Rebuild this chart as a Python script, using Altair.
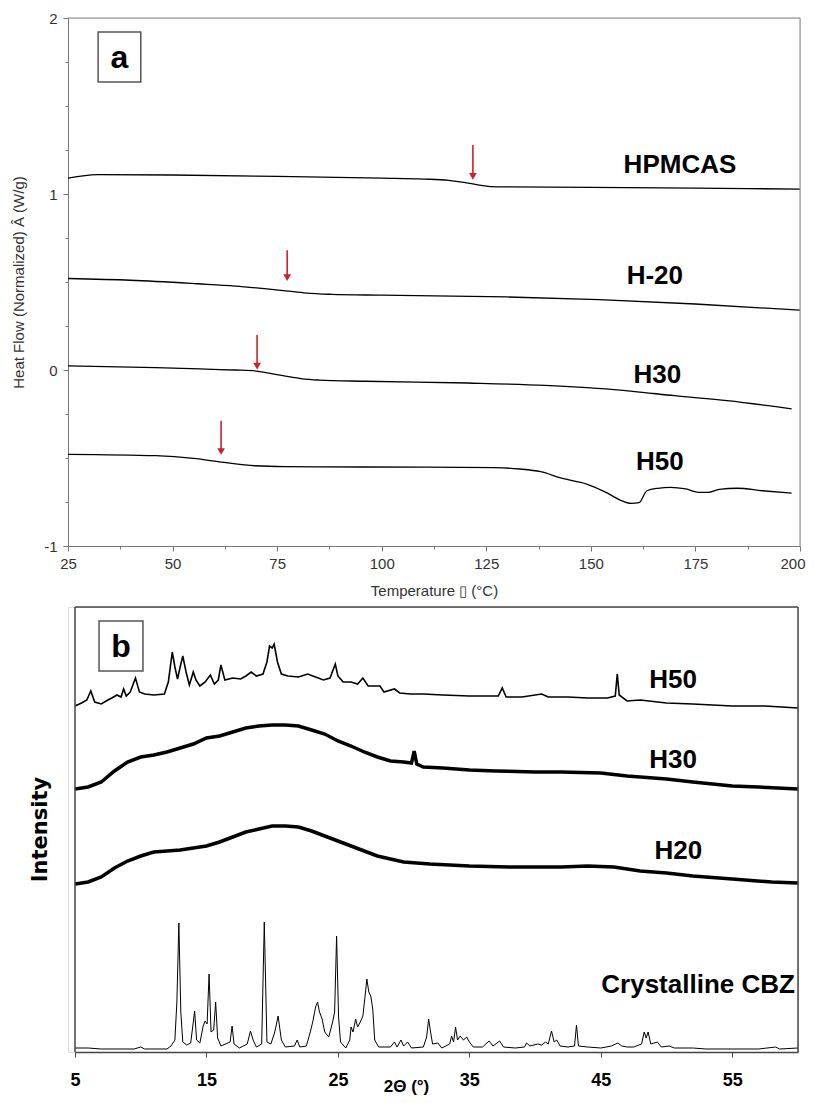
import altair as alt
import pandas as pd

# ---------------- Panel a : DSC ----------------
hpmcas_t = [25, 32, 50, 75, 100, 110, 116, 120, 123, 126, 130, 150, 175, 200]
hpmcas_v = [1.09, 1.11, 1.108, 1.10, 1.09, 1.085, 1.078, 1.065, 1.052, 1.042, 1.04, 1.038, 1.033, 1.028]

h20_t = [25, 40, 56, 65, 72, 77, 82, 88, 100, 130, 152, 175, 200]
h20_v = [0.52, 0.51, 0.49, 0.477, 0.462, 0.45, 0.437, 0.43, 0.425, 0.415, 0.40, 0.375, 0.34]

h30_t = [25, 46, 56.6, 65, 70, 73, 76.4, 81, 85, 96, 120.6, 139, 151.6, 160, 170, 182.6, 198]
h30_v = [0.023, 0.014, 0.006, 0.0, -0.006, -0.018, -0.032, -0.05, -0.057, -0.064, -0.074, -0.087,
         -0.104, -0.121, -0.146, -0.174, -0.221]

h50_t = [25, 46, 55, 62.2, 69.7, 77, 96, 127, 133, 138, 143, 149, 154, 157, 159.7, 161.5,
         163.4, 166, 169, 172.7, 175.8, 178, 180.7, 185, 191, 198]
h50_v = [-0.479, -0.487, -0.502, -0.525, -0.544, -0.549, -0.551, -0.555, -0.5625, -0.578, -0.615,
         -0.648, -0.70, -0.739, -0.758, -0.754, -0.686, -0.672, -0.667, -0.676, -0.695, -0.695,
         -0.678, -0.672, -0.686, -0.70]

dsc_names = ["HPMCAS", "H-20", "H30", "H50"]
dsc_label_t = [171.3, 165.3, 165.9, 166.5]
dsc_label_v = [1.165, 0.534, -0.03, -0.52]

arrow_t = [121.8, 77.4, 70.2, 61.6]
arrow_top = [1.278, 0.68, 0.199, -0.288]
arrow_tip = [1.08, 0.505, 0.002, -0.483]

a_x_domain = [25, 200]
a_y_domain = [-1, 2]
a_x_ticks = [25 + 6.25 * i for i in range(29)]
a_y_ticks = [-1 + 0.25 * i for i in range(13)]

box_a_t = [32.2, 42.4]
box_a_v = [1.636, 1.92]

# ---------------- Panel b : XRD ----------------
h50_x = [5.0, 5.5, 5.9, 6.2, 6.5, 7.0, 7.5, 7.8, 8.2, 8.5, 8.7, 8.9, 9.2, 9.6, 9.9, 10.3, 11.0, 11.8,
         12.1, 12.4, 12.6, 12.8, 13.0, 13.2, 13.45, 13.7, 14.0, 14.2, 14.5, 14.9, 15.3, 15.6, 15.9,
         16.1, 16.4, 17.0, 17.6, 18.0, 18.4, 18.8, 19.3, 19.6, 19.8, 20.0, 20.15, 20.4, 20.7, 21.2,
         22.0, 22.7, 23.3, 23.9, 24.4, 24.8, 25.0, 25.4, 26.0, 26.5, 26.9, 27.3, 28.2, 28.5, 29.3,
         29.7, 30.5, 31.5, 33.0, 35.0, 37.2, 37.5, 37.8, 39.0, 40.5, 41.0, 42.5, 44.0, 45.5, 46.1,
         46.25, 46.4, 47.0, 48.0, 50.0, 52.0, 55.0, 57.5, 60.0]
h50_y = [346, 349, 352, 361, 350, 348, 352, 354, 357, 355, 363, 356, 360, 374, 360, 358, 357, 358,
         370, 400, 385, 373, 385, 396, 380, 367, 380, 372, 366, 370, 377, 368, 372,
         387, 372, 374, 373, 376, 380, 376, 378, 390, 406, 404, 408, 390, 378, 376,
         375, 378, 375, 372, 374, 388, 376, 370, 370, 368, 374, 366, 366, 360, 363,
         359, 358, 358, 357, 356, 356, 364, 355, 355, 358, 355, 355, 354, 354, 356,
         378, 357, 351, 352, 349, 348, 346, 346, 344]

h30_x = [5, 6, 7, 8, 9, 10, 11, 12, 13, 14, 15, 16, 17, 18, 19, 20, 21, 22, 23, 24, 25, 26, 27,
         28, 29, 30, 30.6, 30.8, 31.0, 31.5, 33, 35, 37, 40, 42, 45, 47, 50, 52, 55, 57, 60]
h30_y = [263, 265, 270, 281, 290, 295, 297, 300, 304, 308, 314, 316, 320, 324, 326, 327, 327,
         326, 322, 318, 311, 306, 300, 295, 291, 290, 289, 301, 288, 285, 284, 282, 281, 280,
         280, 279, 276, 273, 270, 266, 265, 263]

h20_x = [5, 6, 7, 8, 9, 10, 11, 12, 13, 14, 15, 16, 17, 18, 19, 20, 21, 22, 23, 24, 25, 26, 27,
         28, 29, 30, 32, 35, 38, 40, 42, 44, 46, 48, 50, 52, 55, 58, 60]
h20_y = [168, 170, 175, 184, 191, 196, 200, 201, 202, 204, 206, 210, 215, 220, 223, 226, 226,
         225, 221, 216, 211, 206, 201, 196, 193, 190, 188, 186, 185, 185, 185, 186, 185, 181,
         179, 176, 173, 170, 169]

cbz_x = [5.0, 6.0, 7.0, 9.5, 10.0, 10.3, 12.0, 12.3, 12.6, 12.75, 12.9, 13.05, 13.2, 13.5, 13.8,
         14.0, 14.1, 14.25, 14.5, 14.75, 14.9, 15.05, 15.2, 15.35, 15.55, 15.7, 15.85, 16.1, 16.8,
         16.95, 17.1, 17.5, 18.1, 18.35, 18.55, 18.8, 19.2, 19.4, 19.6, 19.9, 20.2, 20.45, 20.7,
         21.0, 21.7, 21.9, 22.1, 22.6, 22.9, 23.1, 23.3, 23.45, 23.6, 23.8, 24.0, 24.3, 24.6,
         24.75, 24.9, 25.05, 25.2, 25.6, 25.9, 26.0, 26.15, 26.35, 26.5, 26.7, 26.9, 27.1, 27.2,
         27.35, 27.5, 27.65, 27.8, 28.1, 29.0, 29.3, 29.5, 29.8, 30.0, 30.3, 30.6, 31.5, 31.75,
         31.9, 32.05, 32.2, 32.6, 32.9, 33.5, 33.65, 33.8, 33.95, 34.1, 34.3, 34.55, 34.8, 35.0,
         35.3, 36.0, 36.5, 36.8, 37.3, 37.6, 38.5, 39.2, 39.35, 39.6, 40.2, 40.5, 40.8, 41.0,
         41.25, 41.45, 41.65, 41.9, 42.5, 43.0, 43.15, 43.3, 44.0, 45.0, 45.8, 46.3, 46.6, 47.0,
         47.5, 48.1, 48.3, 48.45, 48.6, 48.8, 49.3, 49.6, 50.2, 50.6, 52.0, 53.0, 55.0, 57.0,
         58.3, 58.6, 60.0]
cbz_y = [4, 4, 3, 3, 5, 3, 3, 6, 12, 50, 129, 40, 10, 7, 9,
         30, 41, 12, 9, 26, 31, 28, 78, 20, 22, 50, 14, 6, 10,
         26, 8, 4, 8, 21, 12, 5, 8, 130, 10, 8, 20, 36, 12,
         5, 6, 12, 5, 6, 20, 31, 45, 50, 40, 33, 20, 15, 30,
         40, 116, 35, 10, 4, 12, 25, 20, 33, 25, 30, 36, 60, 73,
         60, 56, 43, 12, 5, 5, 10, 5, 12, 6, 10, 4, 5, 15,
         33, 20, 8, 9, 4, 8, 16, 10, 25, 12, 16, 12, 15, 10,
         5, 5, 11, 6, 11, 5, 4, 5, 9, 6, 8, 7, 10, 8,
         21, 10, 12, 6, 5, 6, 27, 6, 5, 4, 6, 9, 6, 5,
         5, 8, 20, 14, 20, 8, 10, 5, 6, 4, 4, 3, 3, 3,
         5, 3, 4]

xrd_names = ["H50", "H30", "H20", "Crystalline CBZ"]
xrd_label_x = [50.5, 50.5, 50.9, 52.4]
xrd_label_y = [372, 292, 201, 67]

b_x_domain = [5, 60]
b_y_domain = [0, 445]
b_x_ticks = [5, 15, 25, 35, 45, 55]
box_b_x = [6.83, 10.17]
box_b_y = [381, 431]

# ---------------- build tables ----------------
dsc_rows = []
for name, ts, vs in zip(dsc_names, [hpmcas_t, h20_t, h30_t, h50_t], [hpmcas_v, h20_v, h30_v, h50_v]):
    for t, v in zip(ts, vs):
        dsc_rows.append({"series": name, "temp": t, "value": v})
dsc = pd.DataFrame(dsc_rows)
dsc_labels = pd.DataFrame({"label": dsc_names, "temp": dsc_label_t, "value": dsc_label_v})
arrows = pd.DataFrame({"temp": arrow_t, "top": arrow_top, "tip": arrow_tip})
box_a = pd.DataFrame({"temp": [box_a_t[0]], "t2": [box_a_t[1]], "value": [box_a_v[0]], "v2": [box_a_v[1]],
                      "tm": [sum(box_a_t) / 2], "vm": [sum(box_a_v) / 2], "txt": ["a"]})
frame_a = pd.DataFrame({"temp": [a_x_domain[0], a_x_domain[1]], "t2": [a_x_domain[1], a_x_domain[1]],
                        "value": [a_y_domain[1], a_y_domain[0]], "v2": [a_y_domain[1], a_y_domain[1]]})

RED = "#cc2229"
AX = "#777777"

xs_a = alt.Scale(domain=a_x_domain, nice=False, zero=False)
ys_a = alt.Scale(domain=a_y_domain, nice=False, zero=False)

x_axis_a = alt.Axis(
    values=a_x_ticks, labelExpr="datum.value % 25 === 0 ? datum.label : ''",
    tickSize={"condition": {"test": "datum.value % 25 === 0", "value": 5}, "value": 3},
    labelAlign={"condition": {"test": "datum.value === 200", "value": "right"}, "value": "center"},
    labelOffset={"condition": {"test": "datum.value === 200", "value": 5}, "value": 0},
    labelFlush=False, labelOverlap=False, grid=False, domainColor=AX, tickColor=AX,
    labelColor="#333333", labelFont="Liberation Sans", labelFontSize=15, labelPadding=5,
    title="Temperature \u25af (°C)", titleFont="Liberation Sans", titleFontSize=15,
    titleFontWeight="normal", titleColor="#333333", titleX=366, titleY=44,
    titleBaseline="middle", titleAlign="center")
y_axis_a = alt.Axis(
    values=a_y_ticks, labelExpr="datum.value % 1 === 0 ? toString(datum.value) : ''",
    tickSize={"condition": {"test": "datum.value % 1 === 0", "value": 5}, "value": 3},
    labelFlush=False, labelOverlap=False, grid=False, domainColor=AX, tickColor=AX,
    labelColor="#333333", labelFont="Liberation Sans", labelFontSize=15, labelPadding=6,
    title="Heat Flow (Normalized) \u00c2  (W/g)", titleFont="Liberation Sans", titleFontSize=15,
    titleFontWeight="normal", titleColor="#333333", titleX=-50, titleY=264, titleAngle=270,
    titleBaseline="middle", titleAlign="center")

a_lines = alt.Chart(dsc).mark_line(color="black", strokeWidth=1.3, interpolate="monotone").encode(
    x=alt.X("temp:Q", scale=xs_a, axis=x_axis_a),
    y=alt.Y("value:Q", scale=ys_a, axis=y_axis_a),
    detail="series:N")

a_frame = alt.Chart(frame_a).mark_rule(color="#888888", strokeWidth=1).encode(
    x="temp:Q", x2="t2:Q", y="value:Q", y2="v2:Q")

a_arrow_line = alt.Chart(arrows).transform_calculate(
    value="datum.top", v2="datum.tip + 0.03").mark_rule(color=RED, strokeWidth=1.6).encode(
    x="temp:Q", y="value:Q", y2="v2:Q")
a_arrow_head = alt.Chart(arrows).transform_calculate(value="datum.tip + 0.02").mark_point(
    shape="triangle-down", filled=True, color=RED, size=60, opacity=1).encode(
    x="temp:Q", y="value:Q")

a_labels = alt.Chart(dsc_labels).mark_text(
    font="Liberation Sans", fontWeight="bold", fontSize=26, color="black",
    align="center", baseline="middle").encode(
    x="temp:Q", y="value:Q", text="label:N")

a_box = alt.Chart(box_a).mark_rect(fill="white", stroke="#555555", strokeWidth=1.5).encode(
    x="temp:Q", x2="t2:Q", y="value:Q", y2="v2:Q")
a_box_txt = alt.Chart(box_a).transform_calculate(
    temp_c="datum.tm", value_c="datum.vm").mark_text(
    font="Liberation Sans", fontWeight="bold", fontSize=32, color="black",
    align="center", baseline="middle", dy=1).encode(
    x="temp_c:Q", y="value_c:Q", text="txt:N")

panel_a = alt.layer(a_lines, a_frame, a_arrow_line, a_arrow_head, a_labels, a_box, a_box_txt).properties(
    width=732, height=528)

# ---------------- panel b ----------------
xs_b = alt.Scale(domain=b_x_domain, range=[7, 730], nice=False, zero=False)
ys_b = alt.Scale(domain=b_y_domain, nice=False, zero=False)
BX = "#444444"

x_axis_b = alt.Axis(
    values=b_x_ticks, tickSize=5, labelFlush=False, labelOverlap=False, grid=False,
    domainColor=BX, tickColor=BX, domainWidth=1.5, labelColor="black",
    labelFont="Liberation Sans", labelFontWeight="bold", labelFontSize=18, labelPadding=14,
    title="2\u0398 (°)", titleFont="Liberation Sans", titleFontWeight="bold", titleFontSize=17,
    titleColor="black", titleX=338, titleY=34, titleBaseline="middle", titleAlign="center")
y_axis_b = alt.Axis(
    labels=False, ticks=False, domain=False, grid=False,
    title="Intensity", titleFont="DejaVu Sans", titleFontWeight="bold", titleFontSize=21,
    titleColor="black", titleX=-28, titleY=222, titleAngle=270, titleBaseline="middle",
    titleAlign="center")


def xrd_layer(xs, ys, width, first=False):
    df = pd.DataFrame({"deg": xs, "inten": ys})
    if first:
        xe = alt.X("deg:Q", scale=xs_b, axis=x_axis_b)
        ye = alt.Y("inten:Q", scale=ys_b, axis=y_axis_b)
    else:
        xe = alt.X("deg:Q")
        ye = alt.Y("inten:Q")
    return alt.Chart(df).mark_line(color="black", strokeWidth=width).encode(x=xe, y=ye)


b_cbz = xrd_layer(cbz_x, cbz_y, 1.0, first=True)
b_h20 = xrd_layer(h20_x, h20_y, 3.5)
b_h30 = xrd_layer(h30_x, h30_y, 3.5)
b_h50 = xrd_layer(h50_x, h50_y, 1.6)

frame_b = pd.DataFrame({"deg": [b_x_domain[0], b_x_domain[0], b_x_domain[1]],
                        "d2": [b_x_domain[0], b_x_domain[1], b_x_domain[1]],
                        "inten": [b_y_domain[0], b_y_domain[1], b_y_domain[0]],
                        "i2": [b_y_domain[1], b_y_domain[1], b_y_domain[1]]})
b_frame = alt.Chart(frame_b).mark_rule(color=BX, strokeWidth=1.5).encode(
    x="deg:Q", x2="d2:Q", y="inten:Q", y2="i2:Q")

xrd_labels = pd.DataFrame({"label": xrd_names, "deg": xrd_label_x, "inten": xrd_label_y})
b_labels = alt.Chart(xrd_labels).mark_text(
    font="Liberation Sans", fontWeight="bold", fontSize=26, color="black",
    align="center", baseline="middle").encode(
    x="deg:Q", y="inten:Q", text="label:N")

box_b = pd.DataFrame({"deg": [box_b_x[0]], "d2": [box_b_x[1]], "inten": [box_b_y[0]], "i2": [box_b_y[1]],
                      "xm": [sum(box_b_x) / 2], "ym": [sum(box_b_y) / 2], "txt": ["b"]})
b_box = alt.Chart(box_b).mark_rect(fill="white", stroke="#555555", strokeWidth=1.5).encode(
    x="deg:Q", x2="d2:Q", y="inten:Q", y2="i2:Q")
b_box_txt = alt.Chart(box_b).transform_calculate(
    deg_c="datum.xm", inten_c="datum.ym").mark_text(
    font="Liberation Sans", fontWeight="bold", fontSize=32, color="black",
    align="center", baseline="middle", dy=1).encode(
    x="deg_c:Q", y="inten_c:Q", text="txt:N")

panel_b = alt.layer(b_cbz, b_h20, b_h30, b_h50, b_frame, b_labels, b_box, b_box_txt).properties(
    width=730, height=445)

chart = alt.vconcat(panel_a, panel_b, spacing=61, bounds="flush").resolve_scale(
    x="independent", y="independent").properties(
    padding={"left": 2, "top": 2, "right": 0, "bottom": 0}
).configure_view(stroke=None).configure(background="white")

chart.save("out.html", embed_options={"renderer": "svg", "actions": False})
